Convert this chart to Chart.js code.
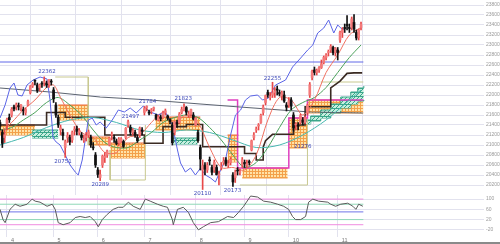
<!DOCTYPE html>
<html>
<head>
<meta charset="utf-8">
<script src="https://cdn.jsdelivr.net/npm/chart.js@4.4.1/dist/chart.umd.min.js"></script>
<style>
  body { margin: 0; background: #fff; width: 500px; height: 244px; overflow: hidden; position: relative; }
  #main { position: absolute; left: 0; top: 0; }
  #osc { position: absolute; left: 0; top: 195px; }
  .base { position: absolute; left: 0; top: 242px; width: 500px; height: 2px; background: #8a8a8a; }
</style>
</head>
<body>
<canvas id="main" width="500" height="195"></canvas>
<canvas id="osc" width="500" height="47"></canvas>
<div class="base"></div>
<script>
// daily candles, trading day index 0 = late March
const opens = [21450, 21250, 21150,
  21420, 21550, 21600, 21760, 21770, 21790, 21740, 21700, 21650, 21800, 22050, 22180, 22300, 22200, 22150, 22230, 22250, 22240, 22230, 22270,
  22100, 21800, 21550, 21300, 21250, 20950, 21150, 21150, 21100, 21300, 21320, 21250, 21200, 21100, 21150, 21200, 21150, 20950, 20800,
  20500, 20350, 20600, 20750, 20800, 21000, 21200, 21150, 21080, 21050, 21080, 21070, 21150, 21400, 21350, 21250, 21250, 21150, 21200, 21300,
  21650, 21750, 21650, 21680, 21720, 21600, 21500, 21560, 21550, 21650, 21580, 21500, 21400, 21250, 21450, 21450, 21650, 21700, 21750, 21600, 21620, 21600,
  21400, 21250, 20950, 20500, 20600, 20500, 20700, 20550, 20500, 20550, 20400, 20550, 20650, 20700, 20600, 20650, 20400, 20350, 20500, 20450, 20600,
  20650, 20600, 20650, 20900, 21150, 21300, 21380, 21450, 21650, 21850, 22050, 21950, 22000, 22050, 22100, 22050, 21980, 22000, 21800,
  21800, 21900, 21600, 21400, 21400, 21450, 21500, 21450, 21650, 22000, 22350, 22500, 22450, 22500, 22550, 22650, 22750, 22850, 22900, 22950, 22850,
  22900, 23100, 23250, 23350, 23400, 23350, 23350, 23450, 23250, 23150, 23350];
const highs = [21500, 21300, 21300,
  21540, 21620, 21750, 21800, 21840, 21840, 21810, 21760, 21740, 21900, 22190, 22250, 22300, 22240, 22220, 22270, 22362, 22280, 22310, 22310,
  22150, 21850, 21600, 21400, 21320, 21100, 21250, 21200, 21280, 21370, 21380, 21330, 21250, 21200, 21250, 21300, 21200, 21050, 20850,
  20550, 20500, 20800, 20850, 20900, 21150, 21260, 21200, 21120, 21150, 21150, 21100, 21350, 21500, 21400, 21330, 21300, 21200, 21360, 21350,
  21770, 21784, 21700, 21730, 21760, 21620, 21600, 21600, 21680, 21720, 21600, 21530, 21450, 21480, 21500, 21650, 21760, 21823, 21770, 21680, 21720, 21650,
  21550, 21300, 21000, 20700, 20650, 20650, 20760, 20600, 20700, 20600, 20480, 20650, 20750, 20750, 20690, 20750, 20450, 20500, 20550, 20520, 20750,
  20700, 20700, 20700, 21100, 21250, 21360, 21430, 21620, 21800, 22000, 22100, 22050, 22255, 22150, 22180, 22100, 22080, 22080, 21850,
  21950, 21950, 21650, 21450, 21450, 21620, 21550, 21580, 21820, 22250, 22500, 22560, 22520, 22570, 22700, 22780, 22830, 22900, 23008, 22980, 22950,
  22950, 23280, 23350, 23420, 23590, 23420, 23560, 23608, 23300, 23320, 23460];
const lows = [21300, 20950, 21050,
  21300, 21450, 21560, 21680, 21700, 21700, 21680, 21600, 21600, 21780, 22020, 22150, 22200, 22050, 22080, 22150, 22180, 22150, 22150, 22200,
  21850, 21550, 21350, 21200, 21100, 20751, 21050, 21000, 21050, 21200, 21200, 21200, 21100, 21050, 21080, 21150, 20950, 20900, 20550,
  20350, 20289, 20550, 20650, 20750, 20980, 21100, 21050, 21000, 20980, 21050, 20950, 21120, 21350, 21200, 21200, 21150, 21050, 21150, 21200,
  21600, 21680, 21600, 21620, 21680, 21500, 21480, 21480, 21530, 21600, 21500, 21420, 21000, 21200, 21350, 21420, 21620, 21680, 21600, 21550, 21580, 21500,
  21380, 21050, 20500, 20110, 20400, 20450, 20600, 20400, 20450, 20400, 20200, 20500, 20600, 20580, 20550, 20600, 20173, 20250, 20400, 20400, 20550,
  20550, 20550, 20600, 20880, 21100, 21250, 21300, 21430, 21600, 21800, 21950, 21900, 21950, 21950, 22000, 21980, 21900, 21850, 21680,
  21750, 21700, 21276, 21300, 21300, 21420, 21400, 21420, 21600, 21950, 22300, 22400, 22400, 22450, 22530, 22620, 22700, 22780, 22850, 22800, 22780,
  22700, 23050, 23150, 23250, 23300, 23250, 23300, 23250, 23100, 23100, 23300];
const closes = [21378, 21033, 21205,
  21509, 21505, 21713, 21724, 21807, 21762, 21802, 21687, 21711, 21870, 22169, 22221, 22277, 22090, 22200, 22217, 22259, 22200, 22307, 22258,
  21923, 21602, 21402, 21344, 21191, 21067, 21188, 21062, 21250, 21301, 21272, 21283, 21151, 21117, 21182, 21260, 21003, 20942, 20601,
  20410, 20408, 20776, 20774, 20884, 21134, 21204, 21129, 21032, 21116, 21124, 20972, 21333, 21462, 21258, 21285, 21193, 21086, 21338, 21275,
  21729, 21754, 21638, 21702, 21746, 21534, 21565, 21533, 21643, 21685, 21535, 21469, 21046, 21466, 21416, 21620, 21709, 21756, 21658, 21616, 21709, 21521,
  21540, 21087, 20720, 20585, 20516, 20593, 20684, 20455, 20655, 20405, 20418, 20563, 20677, 20618, 20628, 20710, 20261, 20456, 20479, 20460, 20704,
  20620, 20625, 20649, 21085, 21199, 21318, 21392, 21597, 21759, 21988, 22001, 21960, 22044, 22079, 22098, 22020, 22048, 21878, 21755,
  21885, 21778, 21341, 21410, 21375, 21587, 21456, 21551, 21798, 22207, 22472, 22451, 22492, 22548, 22625, 22750, 22799, 22867, 22974, 22843, 22927,
  22850, 23251, 23303, 23330, 23391, 23331, 23520, 23319, 23141, 23303, 23416];

// month boundaries (trading day index) and their labels
const monthStarts = [3, 23, 42, 62, 84, 105, 124, 145];
const monthLabels = ['4', '5', '6', '7', '8', '9', '10', '11'];
const priceTicks = [20200, 20400, 20600, 20800, 21000, 21200, 21400, 21600, 21800, 22000,
  22200, 22400, 22600, 22800, 23000, 23200, 23400, 23600, 23800];
const oscTicks = [100, 80, 60, 40, 20, 0, -20, -40];

// blue overlay line [day, price]
const blueLine = [[0, 21540], [2.2, 21800], [4.3, 22140], [6, 22240], [7.7, 22000], [9.5, 21980], [11.6, 22200],
  [14.2, 22300], [17.2, 22360], [20.2, 22320], [21.5, 21900], [22.8, 21140], [24.1, 21060], [25.8, 21000],
  [28, 20800], [30.1, 20600], [32.3, 20460], [33.6, 20400], [35.3, 20700], [36.6, 21100], [37.9, 21500],
  [39.6, 21540], [41.3, 21400], [43, 21460], [45.6, 21340], [48.2, 21500], [50.8, 21700], [53.4, 21660],
  [55.9, 21740], [58.5, 21640], [61.5, 21780], [64.5, 21660], [68, 21600], [71, 21660], [74, 21400],
  [76.2, 20900], [77.5, 20640], [79.6, 20460], [81.8, 20540], [83.9, 20400], [86.1, 20540], [88.2, 20400],
  [90.4, 20340], [92.5, 20260], [94.7, 20500], [96.8, 20700], [99, 21200], [101.1, 21600], [103.3, 21700],
  [105.4, 21900], [107.6, 21980], [110.6, 22000], [112.7, 21900], [115.3, 21940], [118.3, 22200],
  [122.6, 22300], [125.6, 22560], [129.1, 22740], [132.1, 22900], [134.3, 23000], [136.4, 23240],
  [139, 23340], [141.1, 23500], [143.3, 23240], [145, 23400], [147.2, 23300], [148.5, 23340]];

// moving averages [day, price]
const maShort = [[0, 21250], [5, 21450], [10, 21700], [15, 21900], [20, 22150], [23, 22200], [26, 21950],
  [30, 21600], [35, 21250], [40, 21150], [45, 20850], [50, 20850], [55, 21150], [60, 21200], [65, 21450],
  [70, 21650], [75, 21450], [80, 21600], [85, 21450], [90, 20950], [95, 20550], [100, 20550], [105, 20500],
  [110, 20800], [115, 21500], [120, 21950], [125, 21900], [130, 21600], [135, 21900], [140, 22450],
  [145, 22800], [150, 23200], [155, 23350]];
const maMid = [[0, 21300], [5, 21350], [10, 21500], [15, 21650], [20, 21850], [25, 21950], [30, 21800],
  [35, 21600], [40, 21300], [45, 21050], [50, 20950], [55, 20950], [60, 21100], [65, 21250], [70, 21450],
  [75, 21550], [80, 21600], [85, 21550], [90, 21350], [95, 21100], [100, 20800], [105, 20550], [110, 20650],
  [115, 20950], [120, 21350], [125, 21700], [130, 21850], [135, 21950], [140, 22150], [145, 22450],
  [150, 22750], [155, 23000]];
const maLong = [[0, 21000], [10, 21150], [20, 21350], [30, 21500], [40, 21550], [50, 21450], [60, 21300],
  [70, 21250], [80, 21300], [90, 21250], [100, 21100], [110, 20950], [120, 21000], [130, 21200],
  [140, 21500], [150, 21900], [155, 22100]];
const maSlow = [[0, 22140], [21.5, 22060], [43, 21960], [64.5, 21900], [86, 21820], [103, 21760],
  [120.5, 21700], [133.4, 21660], [155.8, 21640]];
const baseLine = [[0, 21400], [20, 21400], [20, 21650], [28, 21650], [28, 21556], [45, 21556], [45, 21200],
  [62, 21200], [62, 21036], [70, 21036], [70, 21367], [80, 21367], [80, 21410], [87, 21410], [87, 20966],
  [105, 20966], [105, 20830], [110, 20830], [110, 20700], [113, 20700], [113, 20955], [114, 21086],
  [117, 21214], [126, 21214], [126, 21400], [131, 21400], [131, 21765], [142, 21765], [142, 22142],
  [146, 22278], [149, 22433], [152, 22442], [155.5, 22442]];
const levelLine = 22660;

// magenta cloud edge and olive high/low channel pieces [day, price]
const magentaEdge = [[97.7, 21900], [102, 21900], [102, 20540], [124, 20540], [124, 21540], [132, 21540], [132, 21900], [156, 21900]];
const oliveLines = [
  [[23.7, 22360], [37.9, 22360], [37.9, 21000]],
  [[47.3, 20900], [47.3, 20300], [62.4, 20300], [62.4, 21400]],
  [[103, 20200], [132, 20200], [132, 21500]],
  [[137.7, 22260], [156, 22260]]
];

// orange cloud boxes [fromDay, toDay, top, bottom]
const orangeBoxes = [[0, 15, 21400, 21200], [25, 38, 21800, 21500], [38, 47.3, 21160, 21000],
  [47.3, 62.4, 21040, 20740], [66.7, 86, 21560, 21300], [97.7, 102.4, 21200, 20660],
  [104, 123.5, 20540, 20340], [124, 132, 21540, 20940], [132, 156, 21900, 21640]];
const greenBoxes = [[13.8, 25, 21300, 21140], [74.4, 84.8, 21140, 21020]];
const cloudTop = [[129.1, 21500], [133.4, 21580], [137.7, 21700], [142, 21820], [146.3, 21960],
  [150.6, 22060], [153.6, 22140], [156.2, 22180]];
const cloudBottom = [[129.1, 21420], [133.4, 21480], [137.7, 21540], [142, 21640], [146.3, 21740],
  [150.6, 21820], [153.6, 21880], [156.2, 21900]];

// price notes
const noteText = ['22362', '20751', '20289', '21497', '21784', '21823', '20110', '20173', '22255', '21276'];
const noteDay = [20.2, 27.1, 43, 56, 63.3, 78.7, 86.9, 99.8, 117, 130];
const notePrice = [22460, 20660, 20200, 21560, 21860, 21920, 20020, 20080, 22320, 20960];

// oscillator [day, value]
const oscLine = [[0, 60], [1.3, 20], [2.2, 8], [4.3, 60], [6.5, 80], [8.6, 72], [11.6, 80], [13.8, 100],
  [15.1, 92], [17.2, 88], [20.2, 72], [22.4, 80], [23.7, 60], [25, 8], [27.1, 0], [30.1, 8], [32.3, 28],
  [34.4, 32], [36.6, 28], [38.7, 32], [40.9, 12], [42.2, -8], [43.9, 20], [46, 40], [48.6, 60], [50.8, 68],
  [52.9, 68], [55.1, 88], [57.2, 72], [60.2, 60], [62.4, 100], [64.5, 92], [67.6, 80], [70.1, 72], [71.9, 68],
  [74, 20], [74.4, 0], [76.2, 60], [78.7, 68], [80.9, 48], [83, 8], [85.2, -20], [87.3, -8], [90.4, 8],
  [93.8, 12], [97.7, 32], [100.3, 28], [102.4, 48], [104.6, 72], [107.6, 112], [110.6, 108], [113.2, 92],
  [116.2, 88], [119.2, 80], [121.8, 72], [123.9, 60], [125.6, 32], [126.9, 20], [129.1, 20], [131.2, 32],
  [132.5, 88], [134.3, 100], [136.8, 92], [140.7, 88], [142, 80], [144.1, 72], [146.3, 80], [149.3, 84],
  [151.5, 72], [152.8, 60], [154, 80], [155.8, 72]];
const oscLevels = [100, 80, 50, 20, 0];
const oscLevelColors = ['#f08ce0', '#8fd8b8', '#6f74e8', '#8fd8b8', '#f08ce0'];

const X_MIN = 0, X_MAX = 207.8, LAST_DAY = 156;

function pts(list) { return list.map(p => ({ x: p[0], y: p[1] })); }

function pattern(bg, fg, size, diagonal) {
  const c = document.createElement('canvas');
  c.width = size; c.height = size;
  const g = c.getContext('2d');
  g.fillStyle = bg; g.fillRect(0, 0, size, size);
  g.fillStyle = fg; g.strokeStyle = fg; g.lineWidth = 1;
  if (diagonal) {
    g.beginPath(); g.moveTo(0, size); g.lineTo(size, 0); g.stroke();
    g.fillRect(0, 0, size, 1);
  } else {
    g.fillRect(0, 0, size, 1); g.fillRect(0, 0, 1, size);
  }
  return g.createPattern(c, 'repeat');
}
const orangeFill = pattern('#ffe2a8', '#f3a04a', 3, false);
const greenFill = pattern('#c6eede', '#3aa68a', 4, true);

function line(data, color, width, order, extra) {
  return Object.assign({ type: 'line', data: data, borderColor: color, borderWidth: width,
    pointRadius: 0, fill: false, tension: 0, order: order }, extra || {});
}

const mainSets = [];
orangeBoxes.forEach(b => {
  mainSets.push(line([{ x: b[0], y: b[2] }, { x: b[1], y: b[2] }], '#ec6a3c', 1, 60, { fill: '+1', backgroundColor: orangeFill }));
  mainSets.push(line([{ x: b[0], y: b[3] }, { x: b[1], y: b[3] }], '#f3a050', 1, 60));
});
greenBoxes.forEach(b => {
  mainSets.push(line([{ x: b[0], y: b[2] }, { x: b[1], y: b[2] }], '#3aa68a', 1, 55, { fill: '+1', backgroundColor: greenFill }));
  mainSets.push(line([{ x: b[0], y: b[3] }, { x: b[1], y: b[3] }], '#3aa68a', 1, 55));
});
mainSets.push(line(pts(cloudTop), '#3aa68a', 1, 55, { fill: '+1', backgroundColor: greenFill, stepped: 'before' }));
mainSets.push(line(pts(cloudBottom), '#3aa68a', 1, 55, { stepped: 'before' }));
oliveLines.forEach(seg => mainSets.push(line(pts(seg), '#c8c890', 1, 50)));
mainSets.push(line(pts(magentaEdge), '#e040c0', 1.5, 45));
mainSets.push(line([{ x: 0, y: levelLine }, { x: LAST_DAY, y: levelLine }], '#6068e8', 1, 40));
mainSets.push(line(pts(maSlow), '#5c6470', 1.2, 30));
mainSets.push(line(pts(baseLine), '#3a2a22', 1.6, 28));
mainSets.push(line(pts(maLong), '#48b8b0', 1, 26, { tension: 0.3 }));
mainSets.push(line(pts(maMid), '#4aa05a', 1, 25, { tension: 0.3 }));
mainSets.push(line(pts(maShort), '#f07060', 1, 24, { tension: 0.3 }));
mainSets.push(line(pts(blueLine), '#5a64e6', 1, 20));

mainSets.push({
  type: 'bar', order: 6, grouped: false, barThickness: 1,
  data: closes.map((c, i) => ({ x: i, y: [lows[i], highs[i]] })),
  backgroundColor: closes.map((c, i) => c >= opens[i] ? '#e84848' : '#111')
});
mainSets.push({
  type: 'bar', order: 5, grouped: false, barThickness: 2,
  data: closes.map((c, i) => ({ x: i, y: [opens[i], c] })),
  backgroundColor: closes.map((c, i) => c >= opens[i] ? '#f47a7a' : '#111'),
  minBarLength: 1
});

const notes = {
  id: 'notes',
  afterDatasetsDraw(chart) {
    const { ctx, scales } = chart;
    ctx.save();
    ctx.font = '5.5px "DejaVu Sans"';
    ctx.fillStyle = '#3a46b8';
    ctx.textAlign = 'center';
    ctx.textBaseline = 'middle';
    noteText.forEach((t, i) => {
      ctx.fillText(t, scales.x.getPixelForValue(noteDay[i]), scales.y.getPixelForValue(notePrice[i]));
    });
    ctx.restore();
  }
};

const gridColor = '#e2e2ee';
const tickFont = { size: 5, family: 'Liberation Sans' };

new Chart(document.getElementById('main'), {
  data: { datasets: mainSets },
  plugins: [notes],
  options: {
    responsive: false, animation: false,
    layout: { padding: 0 },
    plugins: { legend: { display: false }, tooltip: { enabled: false } },
    scales: {
      x: {
        type: 'linear', min: X_MIN, max: X_MAX, offset: false,
        grid: { color: gridColor, drawTicks: false },
        border: { display: false },
        ticks: { display: false },
        afterBuildTicks: s => { s.ticks = monthStarts.map(v => ({ value: v })); },
        afterFit: s => { s.height = 0; s.paddingLeft = 0; s.paddingRight = 0; }
      },
      y: {
        position: 'right', min: 20000, max: 23900,
        grid: { color: gridColor, drawTicks: false },
        border: { display: false },
        ticks: { color: '#9a9a9a', font: tickFont, padding: 2, callback: v => String(v) },
        afterBuildTicks: s => { s.ticks = priceTicks.map(v => ({ value: v })); },
        afterFit: s => { s.width = 16; s.paddingTop = 0; s.paddingBottom = 0; }
      }
    }
  }
});

const oscSets = oscLevels.map((v, i) =>
  line([{ x: 0, y: v }, { x: LAST_DAY, y: v }], oscLevelColors[i], 1, 20));
oscSets.push(line(pts(oscLine), '#5a5a5a', 1, 10));

new Chart(document.getElementById('osc'), {
  type: 'line',
  data: { datasets: oscSets },
  options: {
    responsive: false, animation: false,
    layout: { padding: 0 },
    plugins: { legend: { display: false }, tooltip: { enabled: false } },
    scales: {
      x: {
        type: 'linear', min: X_MIN, max: X_MAX,
        grid: { color: gridColor, drawTicks: false },
        border: { display: false },
        ticks: { color: '#777', font: { size: 5.5, family: 'Liberation Sans' }, padding: 0,
          align: 'start', labelOffset: 4, maxRotation: 0,
          callback: (v, i) => monthLabels[i] },
        afterBuildTicks: s => { s.ticks = monthStarts.map(v => ({ value: v })); },
        afterFit: s => { s.height = 5; s.paddingLeft = 0; s.paddingRight = 0; }
      },
      y: {
        position: 'right', min: -48, max: 116,
        grid: { color: gridColor, drawTicks: false },
        border: { display: false },
        ticks: { color: '#9a9a9a', font: tickFont, padding: 2, callback: v => String(v) },
        afterBuildTicks: s => { s.ticks = oscTicks.map(v => ({ value: v })); },
        afterFit: s => { s.width = 16; s.paddingTop = 0; s.paddingBottom = 0; }
      }
    }
  }
});
</script>
</body>
</html>
